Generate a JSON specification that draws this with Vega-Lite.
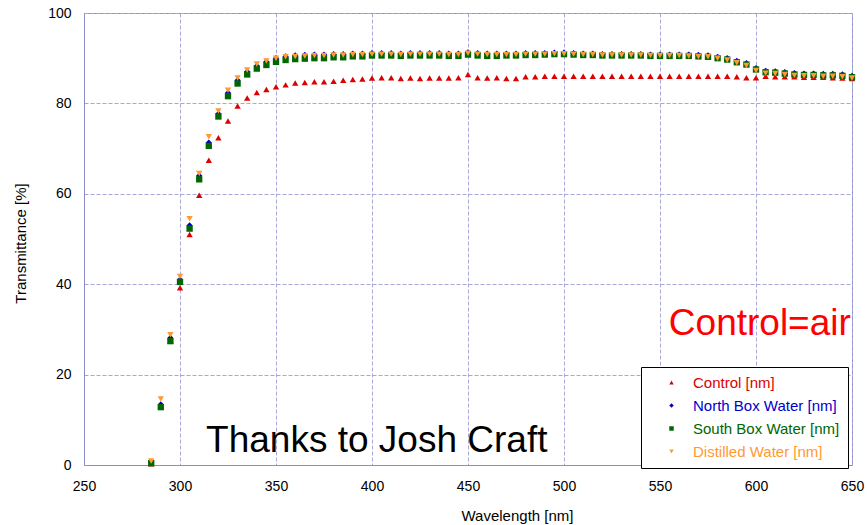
{
  "$schema": "https://vega.github.io/schema/vega-lite/v6.json",
  "width": 768,
  "height": 452,
  "autosize": "none",
  "padding": {"left": 84, "top": 13, "right": 15, "bottom": 60},
  "background": "white",
  "config": {
    "font": "Liberation Sans",
    "view": {"stroke": "#8c8cc8", "strokeWidth": 1}
  },
  "data": {
    "values": [
      {"wl": 285, "Control": 0.3, "North Box Water": 0.6, "South Box Water": 0.4, "Distilled Water": 0.9},
      {"wl": 290, "Control": 13.0, "North Box Water": 13.4, "South Box Water": 12.8, "Distilled Water": 14.6},
      {"wl": 295, "Control": 27.4, "North Box Water": 28.1, "South Box Water": 27.4, "Distilled Water": 28.8},
      {"wl": 300, "Control": 39.2, "North Box Water": 41.0, "South Box Water": 40.5, "Distilled Water": 41.7},
      {"wl": 305, "Control": 51.0, "North Box Water": 53.0, "South Box Water": 52.3, "Distilled Water": 54.5},
      {"wl": 310, "Control": 59.7, "North Box Water": 64.0, "South Box Water": 63.2, "Distilled Water": 64.5},
      {"wl": 315, "Control": 67.4, "North Box Water": 71.3, "South Box Water": 70.6, "Distilled Water": 72.6},
      {"wl": 320, "Control": 72.4, "North Box Water": 77.7, "South Box Water": 77.1, "Distilled Water": 78.3},
      {"wl": 325, "Control": 76.1, "North Box Water": 82.3, "South Box Water": 81.6, "Distilled Water": 82.9},
      {"wl": 330, "Control": 79.4, "North Box Water": 85.1, "South Box Water": 84.4, "Distilled Water": 85.6},
      {"wl": 335, "Control": 81.2, "North Box Water": 87.0, "South Box Water": 86.4, "Distilled Water": 87.4},
      {"wl": 340, "Control": 82.4, "North Box Water": 88.3, "South Box Water": 87.7, "Distilled Water": 88.7},
      {"wl": 345, "Control": 83.1, "North Box Water": 89.2, "South Box Water": 88.5, "Distilled Water": 89.4},
      {"wl": 350, "Control": 83.7, "North Box Water": 90.0, "South Box Water": 89.2, "Distilled Water": 90.0},
      {"wl": 355, "Control": 84.1, "North Box Water": 90.4, "South Box Water": 89.6, "Distilled Water": 90.3},
      {"wl": 360, "Control": 84.5, "North Box Water": 90.6, "South Box Water": 89.8, "Distilled Water": 90.4},
      {"wl": 365, "Control": 84.6, "North Box Water": 90.7, "South Box Water": 89.9, "Distilled Water": 90.5},
      {"wl": 370, "Control": 84.8, "North Box Water": 90.8, "South Box Water": 90.0, "Distilled Water": 90.6},
      {"wl": 375, "Control": 84.8, "North Box Water": 90.8, "South Box Water": 90.0, "Distilled Water": 90.6},
      {"wl": 380, "Control": 84.9, "North Box Water": 90.9, "South Box Water": 90.2, "Distilled Water": 90.7},
      {"wl": 385, "Control": 85.1, "North Box Water": 90.9, "South Box Water": 90.2, "Distilled Water": 90.7},
      {"wl": 390, "Control": 85.3, "North Box Water": 91.0, "South Box Water": 90.4, "Distilled Water": 90.8},
      {"wl": 395, "Control": 85.4, "North Box Water": 91.0, "South Box Water": 90.4, "Distilled Water": 90.8},
      {"wl": 400, "Control": 85.6, "North Box Water": 91.1, "South Box Water": 90.6, "Distilled Water": 90.9},
      {"wl": 405, "Control": 85.7, "North Box Water": 91.1, "South Box Water": 90.6, "Distilled Water": 90.9},
      {"wl": 410, "Control": 85.7, "North Box Water": 91.1, "South Box Water": 90.6, "Distilled Water": 90.9},
      {"wl": 415, "Control": 85.5, "North Box Water": 91.0, "South Box Water": 90.5, "Distilled Water": 90.8},
      {"wl": 420, "Control": 85.6, "North Box Water": 91.1, "South Box Water": 90.6, "Distilled Water": 90.9},
      {"wl": 425, "Control": 85.5, "North Box Water": 91.1, "South Box Water": 90.6, "Distilled Water": 90.9},
      {"wl": 430, "Control": 85.6, "North Box Water": 91.1, "South Box Water": 90.6, "Distilled Water": 90.9},
      {"wl": 435, "Control": 85.6, "North Box Water": 91.1, "South Box Water": 90.6, "Distilled Water": 90.9},
      {"wl": 440, "Control": 85.6, "North Box Water": 91.0, "South Box Water": 90.5, "Distilled Water": 90.8},
      {"wl": 445, "Control": 85.7, "North Box Water": 91.0, "South Box Water": 90.5, "Distilled Water": 90.8},
      {"wl": 450, "Control": 86.4, "North Box Water": 91.3, "South Box Water": 90.8, "Distilled Water": 91.1},
      {"wl": 455, "Control": 85.7, "North Box Water": 91.1, "South Box Water": 90.6, "Distilled Water": 90.9},
      {"wl": 460, "Control": 85.6, "North Box Water": 91.0, "South Box Water": 90.5, "Distilled Water": 90.8},
      {"wl": 465, "Control": 85.7, "North Box Water": 91.0, "South Box Water": 90.5, "Distilled Water": 90.8},
      {"wl": 470, "Control": 85.5, "North Box Water": 91.0, "South Box Water": 90.6, "Distilled Water": 90.8},
      {"wl": 475, "Control": 85.5, "North Box Water": 91.0, "South Box Water": 90.6, "Distilled Water": 90.8},
      {"wl": 480, "Control": 85.9, "North Box Water": 91.1, "South Box Water": 90.7, "Distilled Water": 90.9},
      {"wl": 485, "Control": 85.9, "North Box Water": 91.1, "South Box Water": 90.7, "Distilled Water": 90.9},
      {"wl": 490, "Control": 86.0, "North Box Water": 91.1, "South Box Water": 90.8, "Distilled Water": 90.9},
      {"wl": 495, "Control": 86.0, "North Box Water": 91.2, "South Box Water": 90.9, "Distilled Water": 91.0},
      {"wl": 500, "Control": 86.0, "North Box Water": 91.2, "South Box Water": 90.9, "Distilled Water": 91.0},
      {"wl": 505, "Control": 86.0, "North Box Water": 91.1, "South Box Water": 90.8, "Distilled Water": 90.9},
      {"wl": 510, "Control": 86.0, "North Box Water": 91.0, "South Box Water": 90.7, "Distilled Water": 90.8},
      {"wl": 515, "Control": 86.0, "North Box Water": 91.0, "South Box Water": 90.7, "Distilled Water": 90.8},
      {"wl": 520, "Control": 86.0, "North Box Water": 90.9, "South Box Water": 90.6, "Distilled Water": 90.7},
      {"wl": 525, "Control": 86.0, "North Box Water": 90.9, "South Box Water": 90.6, "Distilled Water": 90.7},
      {"wl": 530, "Control": 86.0, "North Box Water": 90.9, "South Box Water": 90.6, "Distilled Water": 90.7},
      {"wl": 535, "Control": 86.0, "North Box Water": 90.9, "South Box Water": 90.6, "Distilled Water": 90.7},
      {"wl": 540, "Control": 86.0, "North Box Water": 90.9, "South Box Water": 90.6, "Distilled Water": 90.7},
      {"wl": 545, "Control": 86.0, "North Box Water": 90.8, "South Box Water": 90.5, "Distilled Water": 90.6},
      {"wl": 550, "Control": 86.0, "North Box Water": 90.8, "South Box Water": 90.5, "Distilled Water": 90.6},
      {"wl": 555, "Control": 86.0, "North Box Water": 90.8, "South Box Water": 90.5, "Distilled Water": 90.6},
      {"wl": 560, "Control": 86.0, "North Box Water": 90.8, "South Box Water": 90.5, "Distilled Water": 90.6},
      {"wl": 565, "Control": 86.0, "North Box Water": 90.8, "South Box Water": 90.5, "Distilled Water": 90.5},
      {"wl": 570, "Control": 86.0, "North Box Water": 90.7, "South Box Water": 90.4, "Distilled Water": 90.4},
      {"wl": 575, "Control": 86.0, "North Box Water": 90.6, "South Box Water": 90.3, "Distilled Water": 90.3},
      {"wl": 580, "Control": 86.0, "North Box Water": 90.3, "South Box Water": 90.0, "Distilled Water": 90.0},
      {"wl": 585, "Control": 86.0, "North Box Water": 90.0, "South Box Water": 89.7, "Distilled Water": 89.6},
      {"wl": 590, "Control": 85.9, "North Box Water": 89.4, "South Box Water": 89.1, "Distilled Water": 89.0},
      {"wl": 595, "Control": 85.7, "North Box Water": 88.9, "South Box Water": 88.6, "Distilled Water": 88.4},
      {"wl": 600, "Control": 85.7, "North Box Water": 87.8, "South Box Water": 87.5, "Distilled Water": 87.3},
      {"wl": 605, "Control": 86.0, "North Box Water": 87.2, "South Box Water": 86.9, "Distilled Water": 86.7},
      {"wl": 610, "Control": 85.9, "North Box Water": 87.1, "South Box Water": 86.8, "Distilled Water": 86.6},
      {"wl": 615, "Control": 85.9, "North Box Water": 86.9, "South Box Water": 86.6, "Distilled Water": 86.4},
      {"wl": 620, "Control": 85.9, "North Box Water": 86.7, "South Box Water": 86.4, "Distilled Water": 86.2},
      {"wl": 625, "Control": 85.8, "North Box Water": 86.6, "South Box Water": 86.3, "Distilled Water": 86.1},
      {"wl": 630, "Control": 85.8, "North Box Water": 86.6, "South Box Water": 86.3, "Distilled Water": 86.1},
      {"wl": 635, "Control": 85.8, "North Box Water": 86.5, "South Box Water": 86.2, "Distilled Water": 86.0},
      {"wl": 640, "Control": 85.7, "North Box Water": 86.5, "South Box Water": 86.2, "Distilled Water": 86.0},
      {"wl": 645, "Control": 85.6, "North Box Water": 86.4, "South Box Water": 86.1, "Distilled Water": 85.9},
      {"wl": 650, "Control": 85.5, "North Box Water": 86.1, "South Box Water": 85.8, "Distilled Water": 85.6}
    ]
  },
  "layer": [
    {
      "transform": [
        {"fold": ["Control", "North Box Water", "South Box Water", "Distilled Water"], "as": ["series", "t"]}
      ],
      "mark": {"type": "point", "filled": true, "opacity": 1, "strokeWidth": 0, "size": 40},
      "encoding": {
        "x": {
          "field": "wl",
          "type": "quantitative",
          "scale": {"domain": [250, 650], "nice": false, "zero": false},
          "axis": {
            "title": "Wavelength [nm]",
            "values": [250, 300, 350, 400, 450, 500, 550, 600, 650],
            "grid": true,
            "gridColor": "#a8a8d8",
            "gridDash": [4, 2],
            "gridWidth": 1,
            "ticks": false,
            "domainColor": "#8c8cc8",
            "labelPadding": 14,
            "labelFontSize": 14,
            "labelColor": "black",
            "labelFlush": false,
            "labelOverlap": false,
            "titleFontSize": 15,
            "titleFontWeight": "normal",
            "titleColor": "black",
            "titleX": 433,
            "titleY": 55,
            "titleAlign": "center",
            "titleBaseline": "alphabetic"
          }
        },
        "y": {
          "field": "t",
          "type": "quantitative",
          "scale": {"domain": [0, 100], "nice": false},
          "axis": {
            "title": "Transmittance [%]",
            "values": [0, 20, 40, 60, 80, 100],
            "grid": true,
            "gridColor": "#a8a8d8",
            "gridDash": [4, 2],
            "gridWidth": 1,
            "ticks": false,
            "domainColor": "#8c8cc8",
            "labelPadding": 13,
            "labelFontSize": 14,
            "labelColor": "black",
            "labelFlush": false,
            "labelOverlap": false,
            "titleFontSize": 15,
            "titleFontWeight": "normal",
            "titleColor": "black",
            "titleAngle": -90,
            "titleX": -59,
            "titleY": 230,
            "titleAlign": "center",
            "titleBaseline": "alphabetic"
          }
        },
        "color": {
          "field": "series",
          "type": "nominal",
          "scale": {
            "domain": ["Control", "North Box Water", "South Box Water", "Distilled Water"],
            "range": ["#dd0000", "#0000cc", "#006600", "#ff9933"]
          },
          "legend": {
            "title": null,
            "orient": "none",
            "legendX": 557,
            "legendY": 354,
            "padding": 8,
            "symbolOffset": 15,
            "labelOffset": 14,
            "labelFontSize": 15,
            "labelColor": {"expr": "scale('color', datum.value)"},
            "rowPadding": 7,
            "strokeColor": "black",
            "fillColor": "white",
            "symbolSize": 20,
            "symbolStrokeWidth": 0,
            "labelLimit": 300,
            "labelExpr": "datum.label + ' [nm]'"
          }
        },
        "shape": {
          "field": "series",
          "type": "nominal",
          "scale": {
            "domain": ["Control", "North Box Water", "South Box Water", "Distilled Water"],
            "range": ["triangle-up", "diamond", "square", "triangle-down"]
          },
          "legend": {
            "title": null,
            "orient": "none",
            "legendX": 557,
            "legendY": 354,
            "padding": 8,
            "symbolOffset": 15,
            "labelOffset": 14,
            "labelFontSize": 15,
            "labelColor": {"expr": "scale('color', datum.value)"},
            "rowPadding": 7,
            "strokeColor": "black",
            "fillColor": "white",
            "symbolSize": 20,
            "symbolStrokeWidth": 0,
            "labelLimit": 300,
            "labelExpr": "datum.label + ' [nm]'"
          }
        }
      }
    },
    {
      "data": {"values": [{}]},
      "mark": {"type": "text", "text": "Control=air", "fontSize": 37, "color": "#ff0000", "align": "left", "baseline": "alphabetic"},
      "encoding": {"x": {"datum": 554.6}, "y": {"datum": 28.7}}
    },
    {
      "data": {"values": [{}]},
      "mark": {"type": "text", "text": "Thanks to Josh Craft", "fontSize": 37, "color": "black", "align": "left", "baseline": "alphabetic"},
      "encoding": {"x": {"datum": 313.6}, "y": {"datum": 2.9}}
    }
  ]
}
